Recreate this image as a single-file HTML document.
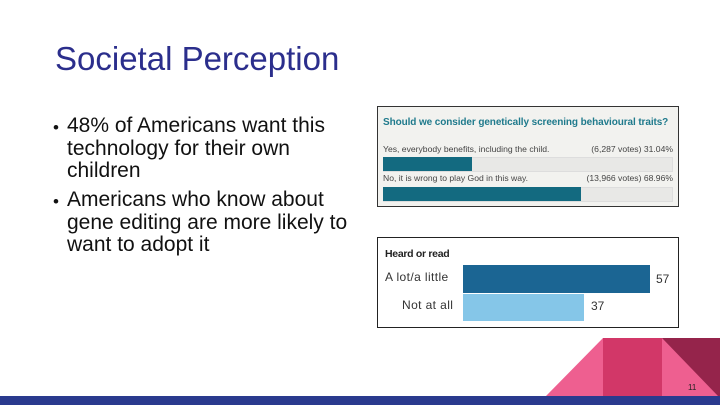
<!DOCTYPE html>
<html><head><style>
body{margin:0;width:720px;height:405px;position:relative;overflow:hidden;background:#fff;font-family:"Liberation Sans",sans-serif}
.a{position:absolute;white-space:nowrap}
</style></head><body>
<div class="a" style="left:55px;top:40px;font-size:33px;color:#2b2e8c">Societal Perception</div>
<div class="a" style="left:53px;top:116px;font-size:17px;line-height:23px;color:#111">•</div>
<div class="a" style="left:67px;top:115px;font-size:21px;line-height:22.5px;color:#111">48% of Americans want this<br>technology for their own<br>children</div>
<div class="a" style="left:53px;top:190px;font-size:17px;line-height:23px;color:#111">•</div>
<div class="a" style="left:67px;top:189px;font-size:21px;line-height:22.5px;color:#111">Americans who know about<br>gene editing are more likely to<br>want to adopt it</div>

<div class="a" style="left:377px;top:106px;width:300px;height:99px;border:1.5px solid #333;background:#f2f2ef">
<div class="a" style="left:5px;top:10px;font-size:10px;font-weight:bold;color:#1f7a8c;letter-spacing:-0.1px">Should we consider genetically screening behavioural traits?</div>
<div class="a" style="left:5px;top:37px;font-size:8.6px;color:#444">Yes, everybody benefits, including the child.</div>
<div class="a" style="right:5px;top:37px;font-size:8.6px;color:#444">(6,287 votes) 31.04%</div>
<div class="a" style="left:5px;top:50px;width:288px;height:13px;background:#e8e8e6;border:1px solid #ddd"></div>
<div class="a" style="left:5px;top:50px;width:89px;height:14px;background:#136a80"></div>
<div class="a" style="left:5px;top:66px;font-size:8.6px;color:#444">No, it is wrong to play God in this way.</div>
<div class="a" style="right:5px;top:66px;font-size:8.6px;color:#444">(13,966 votes) 68.96%</div>
<div class="a" style="left:5px;top:80px;width:288px;height:13px;background:#e8e8e6;border:1px solid #ddd"></div>
<div class="a" style="left:5px;top:80px;width:198px;height:14px;background:#136a80"></div>
</div>

<div class="a" style="left:377px;top:237px;width:300px;height:89px;border:1.5px solid #222;background:#fff">
<div class="a" style="left:7px;top:10px;font-size:10.5px;font-weight:bold;color:#222;letter-spacing:-0.3px">Heard or read</div>
<div class="a" style="left:7px;top:32px;font-size:12px;color:#333;letter-spacing:0.4px">A lot/a little</div>
<div class="a" style="left:85px;top:27px;width:187px;height:28px;background:#1b6593"></div>
<div class="a" style="left:278px;top:34px;font-size:12px;color:#333">57</div>
<div class="a" style="left:24px;top:60px;font-size:12px;color:#333;letter-spacing:0.4px">Not at all</div>
<div class="a" style="left:85px;top:56px;width:121px;height:27px;background:#85c6e8"></div>
<div class="a" style="left:213px;top:61px;font-size:12px;color:#333">37</div>
</div>

<svg class="a" style="left:0;top:0" width="720" height="405">
<polygon points="546,396 603,338 662,338 720,338 720,396" fill="#ee5f90"/>
<rect x="603" y="338" width="59" height="58" fill="#d23768"/>
<polygon points="662,338 720,338 720,396 718,396" fill="#95244b"/>
<rect x="0" y="396" width="720" height="9" fill="#2a3a8e"/>
<text x="688" y="390" font-size="8" fill="#222" font-family="Liberation Sans">11</text>
</svg>
</body></html>
